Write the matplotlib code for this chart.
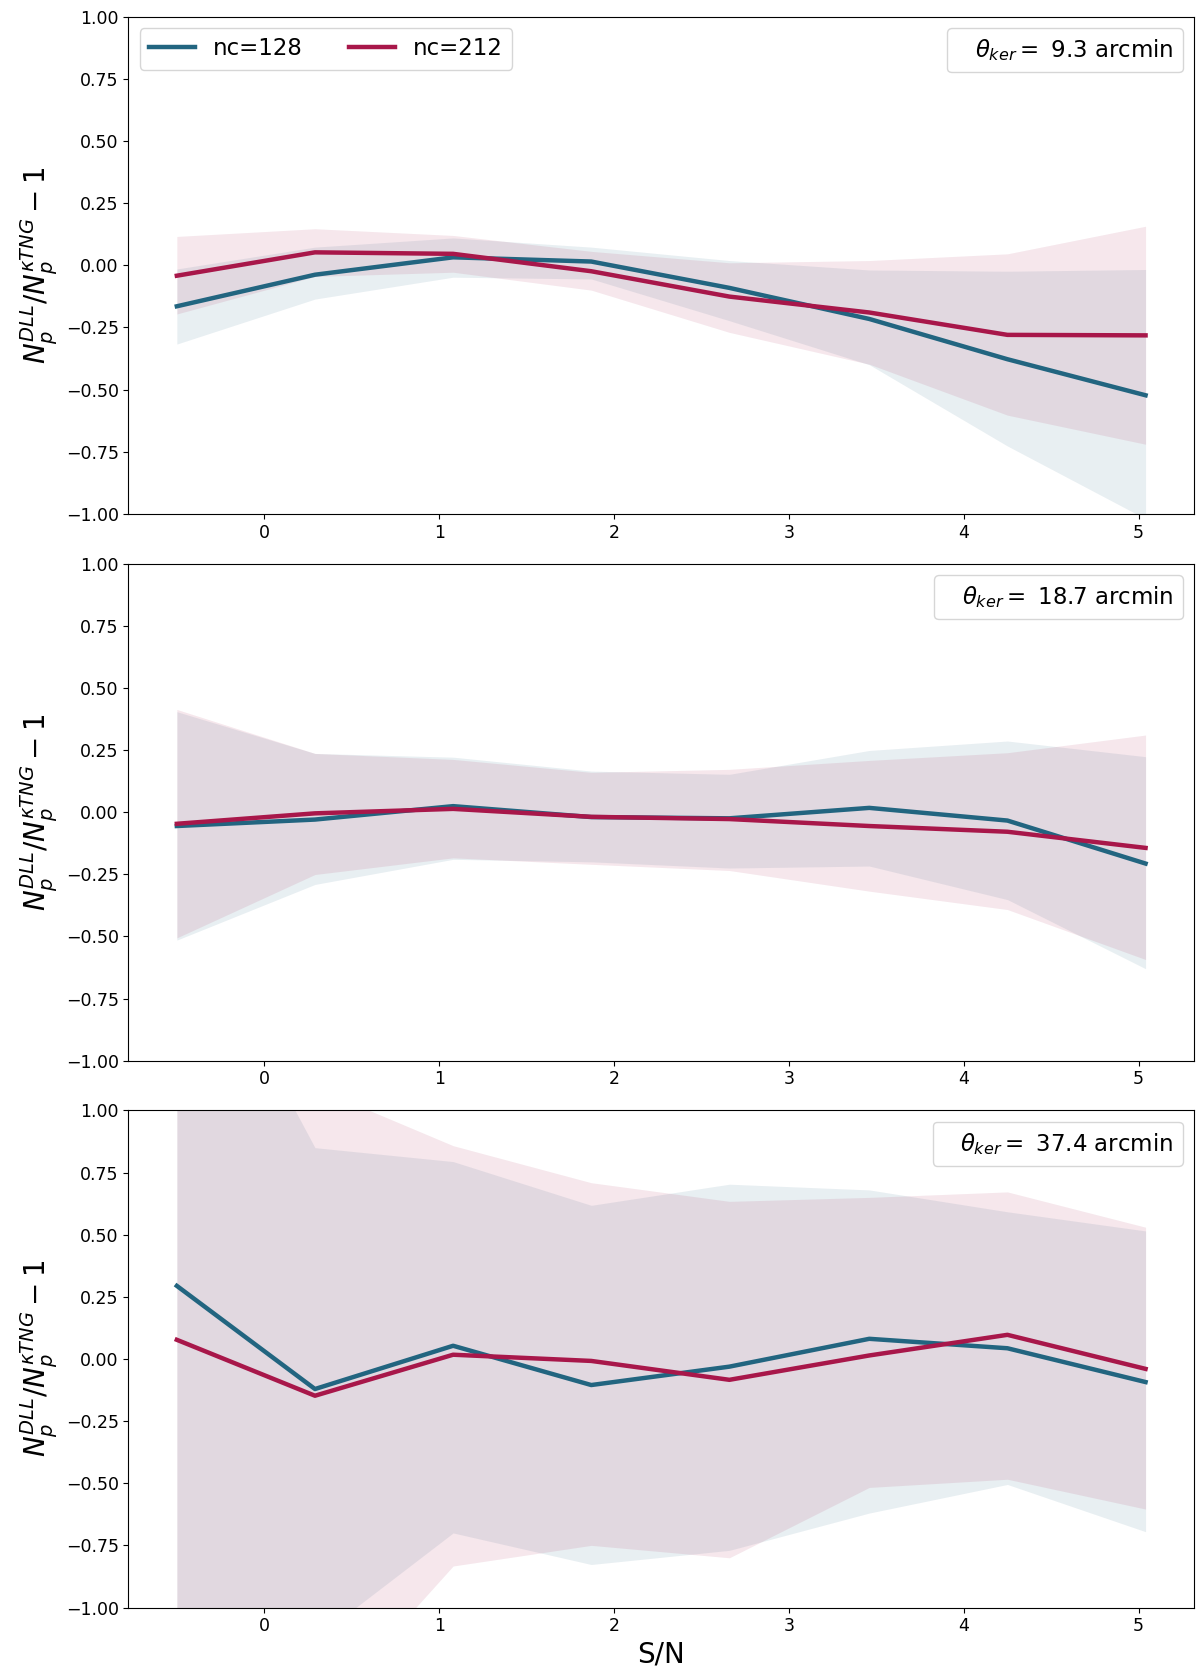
import numpy as np
import matplotlib
matplotlib.use("Agg")
import matplotlib.pyplot as plt
from matplotlib.lines import Line2D

# S/N bin centres
sn = [-0.50, 0.29, 1.08, 1.87, 2.66, 3.46, 4.25, 5.04]

# kernel sizes (arcmin)
theta_ker = ["9.3", "18.7", "37.4"]

# mean relative difference, nc=128
mean_128 = [
    [-0.165, -0.038, 0.032, 0.015, -0.091, -0.216, -0.378, -0.523],
    [-0.056, -0.030, 0.024, -0.020, -0.025, 0.017, -0.034, -0.207],
    [0.294, -0.121, 0.053, -0.105, -0.031, 0.081, 0.043, -0.093],
]
low_128 = [
    [-0.317, -0.136, -0.048, -0.055, -0.223, -0.400, -0.727, -1.02],
    [-0.515, -0.291, -0.190, -0.200, -0.225, -0.217, -0.352, -0.630],
    [-1.60, -1.126, -0.700, -0.827, -0.770, -0.620, -0.505, -0.695],
]
high_128 = [
    [-0.015, 0.073, 0.110, 0.073, 0.019, -0.019, -0.024, -0.017],
    [0.404, 0.236, 0.221, 0.165, 0.152, 0.248, 0.286, 0.223],
    [1.89, 0.850, 0.794, 0.618, 0.703, 0.680, 0.592, 0.515],
]

# mean relative difference, nc=212
mean_212 = [
    [-0.042, 0.052, 0.046, -0.024, -0.126, -0.190, -0.280, -0.282],
    [-0.047, -0.005, 0.013, -0.019, -0.028, -0.056, -0.079, -0.144],
    [0.077, -0.148, 0.017, -0.008, -0.084, 0.014, 0.097, -0.040],
]
low_212 = [
    [-0.196, -0.045, -0.028, -0.100, -0.270, -0.398, -0.603, -0.720],
    [-0.506, -0.251, -0.184, -0.210, -0.235, -0.318, -0.392, -0.593],
    [-1.60, -1.45, -0.833, -0.750, -0.800, -0.517, -0.484, -0.604],
]
high_212 = [
    [0.116, 0.147, 0.120, 0.056, 0.010, 0.019, 0.046, 0.157],
    [0.413, 0.236, 0.212, 0.160, 0.172, 0.208, 0.239, 0.310],
    [1.40, 1.092, 0.858, 0.709, 0.634, 0.650, 0.672, 0.530],
]

c128 = "#226580"
c212 = "#a8174a"

fig, axes = plt.subplots(3, 1, figsize=(12, 16.71), dpi=100)
fig.subplots_adjust(left=0.107, right=0.995, top=0.990, bottom=0.038, hspace=0.1)

for i, ax in enumerate(axes):
    ax.fill_between(sn, low_128[i], high_128[i], color=c128, alpha=0.1, linewidth=0)
    ax.fill_between(sn, low_212[i], high_212[i], color=c212, alpha=0.1, linewidth=0)
    l1, = ax.plot(sn, mean_128[i], color=c128, lw=3.2, label="nc=128")
    l2, = ax.plot(sn, mean_212[i], color=c212, lw=3.2, label="nc=212")
    ax.set_ylim(-1, 1)
    ax.set_yticks(np.arange(-1, 1.01, 0.25))
    ax.tick_params(labelsize=12.5)
    ax.set_ylabel(r"$N_p^{DLL}/N_p^{\kappa TNG}-1$", fontsize=20)

    if i == 0:
        leg = ax.legend(handles=[l1, l2], loc="upper left", ncol=2, fontsize=16.5)
        ax.add_artist(leg)

    dummy = Line2D([], [], linestyle="none")
    ax.legend(handles=[dummy], labels=[r"$\theta_{ker} = $ " + theta_ker[i] + " arcmin"],
              loc="upper right", fontsize=16.5, handlelength=0, handletextpad=0.8)

axes[-1].set_xlabel("S/N", fontsize=20)

plt.savefig("out.png", dpi=100)
